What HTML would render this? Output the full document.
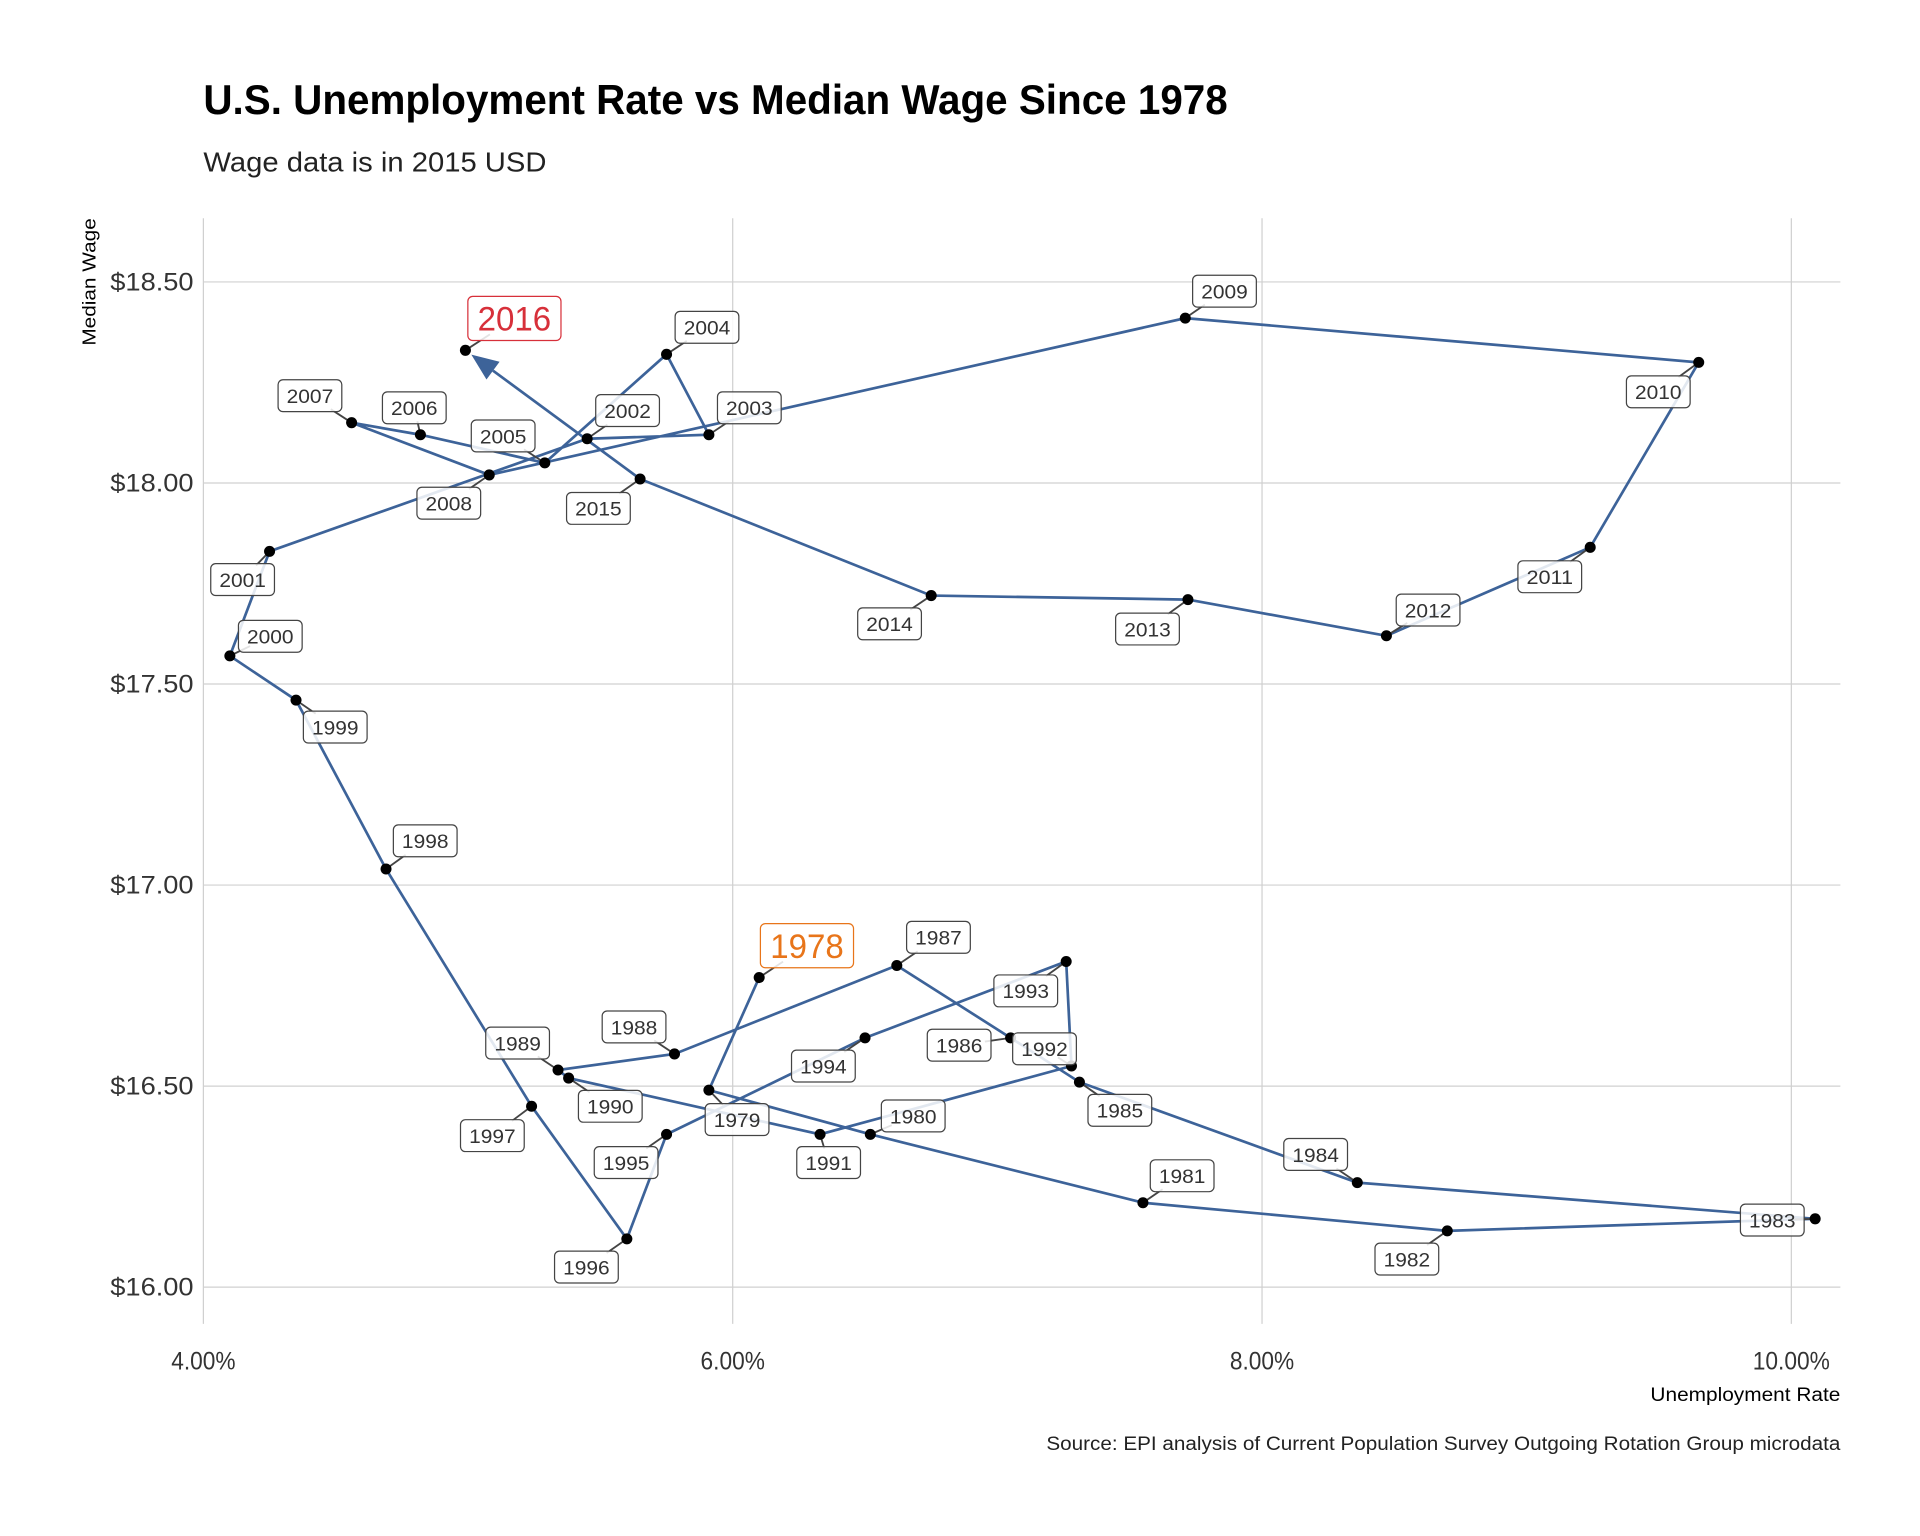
<!DOCTYPE html>
<html><head><meta charset="utf-8"><style>
html,body{margin:0;padding:0;background:#fff;}
svg{display:block;}
text{font-family:"Liberation Sans",sans-serif;}
</style></head><body>
<svg id="chart" width="1920" height="1536" viewBox="0 0 1567 1253" preserveAspectRatio="none" xmlns="http://www.w3.org/2000/svg">
<text x="166" y="93" font-size="34" font-weight="bold" fill="#000" textLength="836" lengthAdjust="spacingAndGlyphs">U.S. Unemployment Rate vs Median Wage Since 1978</text>
<text x="166" y="140" font-size="23" fill="#222" textLength="280" lengthAdjust="spacingAndGlyphs">Wage data is in 2015 USD</text>
<g id="grid"></g>
<g id="axes"></g>
<g id="marks"></g>
<text x="1502" y="1143" font-size="16" text-anchor="end" fill="#000" textLength="155" lengthAdjust="spacingAndGlyphs">Unemployment Rate</text>
<text transform="translate(78,230) rotate(-90)" font-size="15" text-anchor="middle" fill="#000" textLength="104" lengthAdjust="spacingAndGlyphs">Median Wage</text>
<text x="1502" y="1183" font-size="16" text-anchor="end" fill="#222" textLength="648" lengthAdjust="spacingAndGlyphs">Source: EPI analysis of Current Population Survey Outgoing Rotation Group microdata</text>
</svg>
<script>
const years=[1978,1979,1980,1981,1982,1983,1984,1985,1986,1987,1988,1989,1990,1991,1992,1993,1994,1995,1996,1997,1998,1999,2000,2001,2002,2003,2004,2005,2006,2007,2008,2009,2010,2011,2012,2013,2014,2015,2016];
const unemployment=[6.10,5.91,6.52,7.55,8.70,10.09,8.36,7.31,7.05,6.62,5.78,5.34,5.38,6.33,7.28,7.26,6.50,5.75,5.60,5.24,4.69,4.35,4.10,4.25,5.45,5.91,5.75,5.29,4.82,4.56,5.08,7.71,9.65,9.24,8.47,7.72,6.75,5.65,4.99];
const wage=[16.77,16.49,16.38,16.21,16.14,16.17,16.26,16.51,16.62,16.80,16.58,16.54,16.52,16.38,16.55,16.81,16.62,16.38,16.12,16.45,17.04,17.46,17.57,17.83,18.11,18.12,18.32,18.05,18.12,18.15,18.02,18.41,18.30,17.84,17.62,17.71,17.72,18.01,18.33];
const xTicks=[4,6,8,10];
const xTickLabels=["4.00%","6.00%","8.00%","10.00%"];
const yTicks=[16,16.5,17,17.5,18,18.5];
const yTickLabels=["$16.00","$16.50","$17.00","$17.50","$18.00","$18.50"];
// label offsets in pixels (layout, not data)
const labelDx=[39,23,35,32,-33,-35,-34,33,-42,34,-33,-33,34,7,-22,-33,-34,-33,-33,-32,32,32,33,-22,33,33,33,-34,-5,-34,-33,32,-33,-33,34,-33,-34,-34,40];
const labelDy=[-26,24,-15,-22,23,1,-23,23,6,-23,-22,-22,23,23,-14,24,23,23,23,24,-23,22,-16,23,-23,-22,-22,-22,-22,-22,23,-22,24,24,-21,24,23,24,-26];
const sx=v=>166+(v-4)*216;
const sy=v=>230-(v-18.5)*328;
const NS="http://www.w3.org/2000/svg";
function mk(tag,attrs,parent){const e=document.createElementNS(NS,tag);for(const k in attrs)e.setAttribute(k,attrs[k]);parent.appendChild(e);return e;}
const grid=document.getElementById('grid'),axes=document.getElementById('axes'),marks=document.getElementById('marks');
xTicks.forEach((t,i)=>{
  const l=mk('line',{x1:sx(t),x2:sx(t),y1:178,y2:1080,stroke:'#d0d0d0','stroke-width':1},grid);
  
  
  const tx=mk('text',{x:sx(t),y:1117,'font-size':20,'text-anchor':'middle',fill:'#333',textLength:xTickLabels[i].length*10.5,lengthAdjust:'spacingAndGlyphs'},axes);
  
  
  tx.textContent=xTickLabels[i];
});
yTicks.forEach((t,i)=>{
  const l=mk('line',{x1:166,x2:1502,y1:sy(t),y2:sy(t),stroke:'#d0d0d0','stroke-width':1},grid);
  
  
  const tx=mk('text',{x:158,y:sy(t)+7,'font-size':20,'text-anchor':'end',fill:'#333',textLength:68,lengthAdjust:'spacingAndGlyphs'},axes);
  
  
  tx.textContent=yTickLabels[i];
});
const n=years.length;
let d='';
for(let i=0;i<n-1;i++){d+=(i?'L':'M')+sx(unemployment[i])+','+sy(wage[i]);}
const lx=sx(unemployment[n-2]),ly=sy(wage[n-2]),ex=sx(unemployment[n-1]),ey=sy(wage[n-1]);
const ang=Math.atan2(ey-ly,ex-lx),len=Math.hypot(ex-lx,ey-ly);
const tipX=lx+Math.cos(ang)*(len-6),tipY=ly+Math.sin(ang)*(len-6);
const baseX=tipX-Math.cos(ang)*22,baseY=tipY-Math.sin(ang)*22;
d+='L'+baseX+','+baseY;
const p=mk('path',{d:d,fill:'none',stroke:'#3d6399','stroke-width':2.2},marks);


const px=-Math.sin(ang)*9,py=Math.cos(ang)*9;
const ar=mk('polygon',{points:`${tipX},${tipY} ${baseX+px},${baseY+py} ${baseX-px},${baseY-py}`,fill:'#3d6399'},marks);


for(let i=0;i<n;i++){
  const x=sx(unemployment[i]),y=sy(wage[i]);
  const lc=mk('line',{x1:x,y1:y,x2:x+labelDx[i]*0.5,y2:y+labelDy[i]*0.5,stroke:'#444','stroke-width':1.5},marks);
  
  
}
for(let i=0;i<n;i++){
  const c=mk('circle',{cx:sx(unemployment[i]),cy:sy(wage[i]),r:4.5,fill:'#000'},marks);
  
  
}
for(let i=0;i<n;i++){
  const x=sx(unemployment[i])+labelDx[i],y=sy(wage[i])+labelDy[i];
  const big=(i===0||i===n-1);
  const col=i===0?'#e8751a':(i===n-1?'#d7303a':'#333');
  const w=big?76:52,h=big?36:26;
  const g=mk('g',{},marks);
  
  
  mk('rect',{x:x-w/2,y:y-h/2,width:w,height:h,rx:4,fill:'#fff','fill-opacity':0.85,stroke:big?col:'#444','stroke-width':1},g);
  const t=mk('text',{x:x,y:y+(big?10:6),'font-size':big?28:16,'text-anchor':'middle',fill:col,textLength:big?60:38,lengthAdjust:'spacingAndGlyphs'},g);
  t.textContent=years[i];
}
</script>
</body></html>
